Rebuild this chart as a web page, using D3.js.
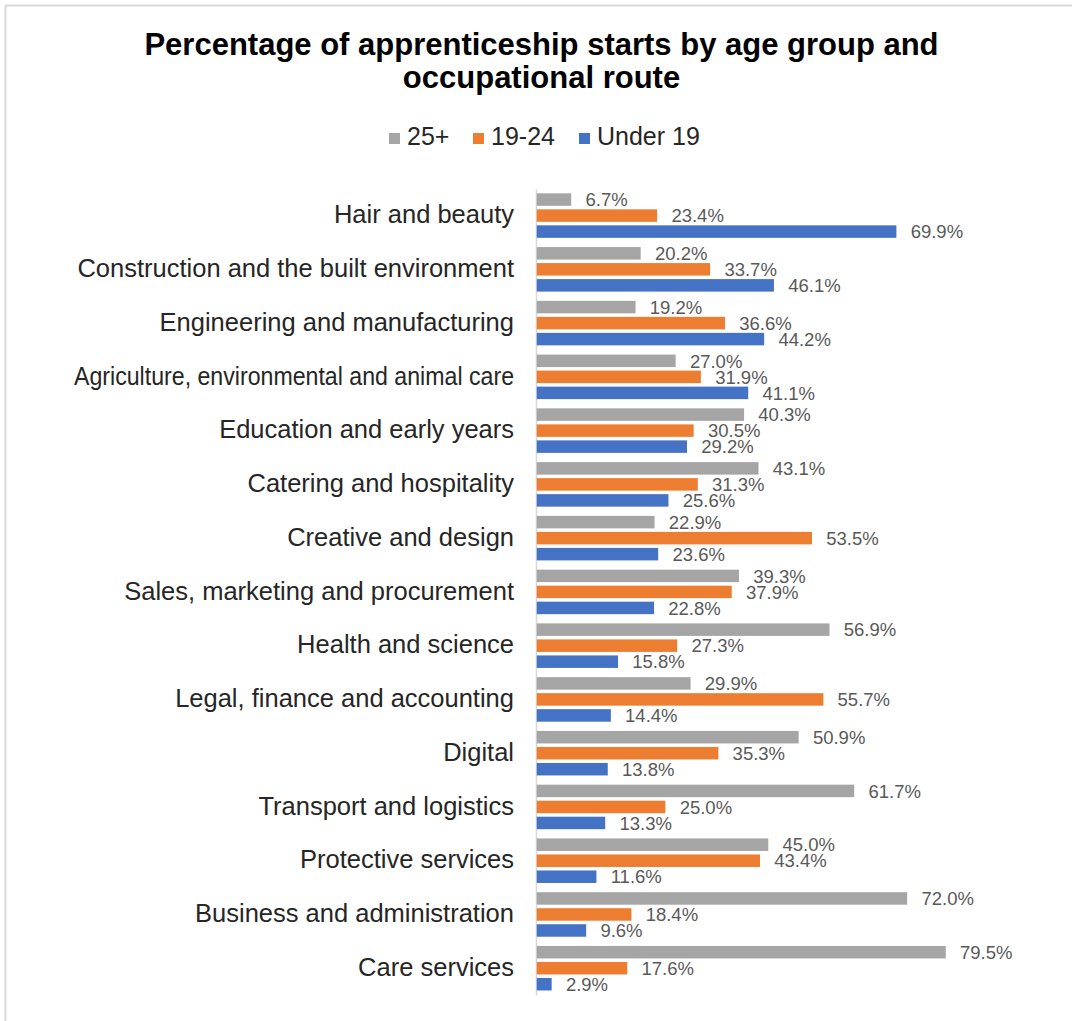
<!DOCTYPE html>
<html>
<head>
<meta charset="utf-8">
<script src="https://cdn.jsdelivr.net/npm/d3@7"></script>
<style>
  html, body { margin: 0; padding: 0; background: #fff; }
  svg { display: block; font-family: "Liberation Sans", Arial, sans-serif; }
</style>
</head>
<body>
<svg id="chart" width="1072" height="1021"></svg>
<script>
// Occupational routes, listed top to bottom
const routes = [
  "Hair and beauty",
  "Construction and the built environment",
  "Engineering and manufacturing",
  "Agriculture, environmental and animal care",
  "Education and early years",
  "Catering and hospitality",
  "Creative and design",
  "Sales, marketing and procurement",
  "Health and science",
  "Legal, finance and accounting",
  "Digital",
  "Transport and logistics",
  "Protective services",
  "Business and administration",
  "Care services"
];

// Age groups (series) and their share of starts, in percent
const ageGroups = ["25+", "19-24", "Under 19"];
const age25plus = [6.7, 20.2, 19.2, 27.0, 40.3, 43.1, 22.9, 39.3, 56.9, 29.9, 50.9, 61.7, 45.0, 72.0, 79.5];
const age19to24 = [23.4, 33.7, 36.6, 31.9, 30.5, 31.3, 53.5, 37.9, 27.3, 55.7, 35.3, 25.0, 43.4, 18.4, 17.6];
const ageUnder19 = [69.9, 46.1, 44.2, 41.1, 29.2, 25.6, 23.6, 22.8, 15.8, 14.4, 13.8, 13.3, 11.6, 9.6, 2.9];

const seriesValues = [age25plus, age19to24, ageUnder19];
const colors = ["#A5A5A5", "#ED7D31", "#4472C4"];

const titleLines = ["Percentage of apprenticeship starts by age group and", "occupational route"];

const rows = routes.map((r, i) => ({
  route: r,
  values: ageGroups.map((g, k) => ({ group: g, value: seriesValues[k][i] }))
}));

const svg = d3.select("#chart");

// Chart-area frame
svg.append("rect")
  .attr("x", 5.5).attr("y", 5.5)
  .attr("width", 1200).attr("height", 1200)
  .attr("fill", "none")
  .attr("stroke", "#d9d9d9")
  .attr("stroke-width", 2);

// Title
svg.append("g").selectAll("text")
  .data(titleLines)
  .join("text")
  .attr("x", 541.5)
  .attr("y", (d, i) => 54.5 + i * 33.5)
  .attr("text-anchor", "middle")
  .attr("font-size", "31px")
  .attr("font-weight", "bold")
  .attr("fill", "#000")
  .text(d => d);

// Legend
const legendLayout = [389, 473, 579];
const legend = svg.append("g");
ageGroups.forEach((g, k) => {
  const lg = legend.append("g").attr("transform", `translate(${legendLayout[k]},0)`);
  lg.append("rect")
    .attr("x", 0).attr("y", 133)
    .attr("width", 11).attr("height", 11)
    .attr("fill", colors[k]);
  lg.append("text")
    .attr("x", 18).attr("y", 145)
    .attr("font-size", "25px")
    .attr("fill", "#262626")
    .text(g);
});

// Scales
const x = d3.scaleLinear().domain([0, 80]).range([536, 536 + 80 * 5.145]);

const y = d3.scaleBand()
  .domain(routes)
  .range([188.7, 995.1])
  .paddingInner(0.172)
  .paddingOuter(0.086);

const ySub = d3.scaleBand()
  .domain(ageGroups)
  .range([0, y.bandwidth()])
  .paddingInner(0.22);

const color = d3.scaleOrdinal().domain(ageGroups).range(colors);
const fmt = d3.format(".1f");

// Category axis
const yAxis = d3.axisLeft(y).tickSize(0).tickPadding(22);
const axisG = svg.append("g")
  .attr("transform", `translate(${x(0)},0)`)
  .call(yAxis);
axisG.select(".domain")
  .attr("stroke", "#d9d9d9")
  .attr("stroke-width", 1.5);
const maxLabelWidth = 440;
axisG.selectAll(".tick text")
  .attr("font-size", "25.5px")
  .attr("font-family", "'Liberation Sans', Arial, sans-serif")
  .attr("fill", "#262626")
  .attr("dy", "0.3em")
  .each(function () {
    // squeeze any label that would run wider than the label column
    if (this.getComputedTextLength() > maxLabelWidth) {
      d3.select(this)
        .attr("textLength", maxLabelWidth)
        .attr("lengthAdjust", "spacingAndGlyphs");
    }
  });

// Bars and value labels
const groups = svg.append("g").selectAll("g")
  .data(rows)
  .join("g")
  .attr("transform", d => `translate(0,${y(d.route)})`);

groups.selectAll("rect")
  .data(d => d.values)
  .join("rect")
  .attr("x", x(0) + 0.75)
  .attr("y", d => ySub(d.group))
  .attr("width", d => x(d.value) - x(0))
  .attr("height", ySub.bandwidth())
  .attr("fill", d => color(d.group));

groups.selectAll("text.val")
  .data(d => d.values)
  .join("text")
  .attr("class", "val")
  .attr("x", d => x(d.value) + 15)
  .attr("y", d => ySub(d.group) + ySub.bandwidth() / 2)
  .attr("dy", "0.36em")
  .attr("font-size", "18.5px")
  .attr("fill", "#595959")
  .text(d => fmt(d.value) + "%");
</script>
</body>
</html>
